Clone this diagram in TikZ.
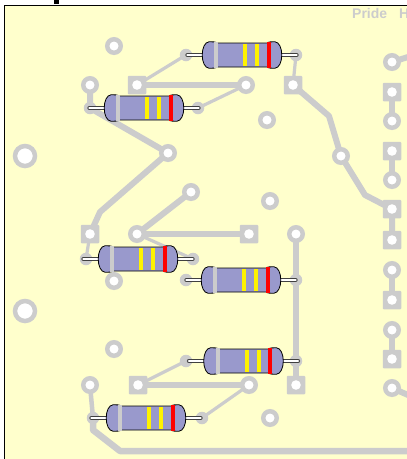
\documentclass[tikz,border=0pt]{standalone}
\usepackage{fontspec}
\setmainfont{Liberation Sans}
\definecolor{board}{RGB}{255,255,204}
\definecolor{cu}{RGB}{204,204,204}
\definecolor{rbody}{RGB}{153,153,204}
\tikzset{
  x=1pt,y=-1pt,
  trace/.style={draw=cu,line width=6pt,line join=round,line cap=round},
  thin trace/.style={draw=cu,line width=3.2pt,line cap=round},
  wide trace/.style={draw=cu,line width=6.5pt,line join=round},
  rpadhole/.style={circle,draw=cu,fill=white,line width=4.5pt,minimum size=13.5pt,inner sep=0pt,outer sep=0pt},
  bighole/.style={circle,draw=cu,fill=white,line width=4.5pt,minimum size=20pt,inner sep=0pt,outer sep=0pt},
  spad/.style={rectangle,rounded corners=1pt,fill=cu,minimum size=18.5pt,inner sep=0pt,outer sep=0pt,
     path picture={\fill[white] (path picture bounding box.center) circle (4.8pt);}},
  lpad/.style={circle,fill=cu,minimum size=12.5pt,inner sep=0pt,outer sep=0pt},
}
\newcommand{\resistor}[2]{%
 \begin{scope}[shift={(#1,#2)}]
  \draw[black!75,line width=4.4pt,line cap=round] (-36,0)--(-54.5,0) (36,0)--(54.5,0);
  \draw[white,line width=2.8pt,line cap=round] (-36,0)--(-54.5,0) (36,0)--(54.5,0);
  \path[fill=rbody,draw=black,line width=.8pt]
    (-25,-12) -- (25,-12)
    .. controls (26,-13.2) and (30,-13.4) .. (33,-13.2)
    .. controls (37,-13) and (39.8,-7) .. (39.8,0)
    .. controls (39.8,7) and (37,13) .. (33,13.2)
    .. controls (30,13.4) and (26,13.2) .. (25,12)
    -- (-25,12)
    .. controls (-26,13.2) and (-30,13.4) .. (-33,13.2)
    .. controls (-37,13) and (-39.8,7) .. (-39.8,0)
    .. controls (-39.8,-7) and (-37,-13) .. (-33,-13.2)
    .. controls (-30,-13.4) and (-26,-13.2) .. (-25,-12) -- cycle;
  \fill[cu] (-28,-12.6) rectangle (-24,12.6);
  \fill[yellow] (1,-11.4) rectangle (5,11.4);
  \fill[yellow] (13,-11.4) rectangle (17,11.4);
  \fill[red] (24.6,-13) rectangle (28.6,13);
 \end{scope}}
\begin{document}
\begin{tikzpicture}
\useasboundingbox (0,0) rectangle (407,459);
\fill[white] (0,0) rectangle (407,459);
\fill[black] (54,0) rectangle (58.5,4);
\fill[board] (4.5,5) rectangle (407,459);
\draw[black,line width=1pt] (4.5,459) -- (4.5,5) -- (407,5);
\coordinate (a1) at (186,55); \coordinate (a2) at (296,55);
\coordinate (b1) at (90,108); \coordinate (b2) at (198,108);
\coordinate (c1) at (86,259); \coordinate (c2) at (193,259);
\coordinate (d1) at (186,280); \coordinate (d2) at (296,280);
\coordinate (e1) at (186,361); \coordinate (e2) at (296,361);
\coordinate (f1) at (93,418); \coordinate (f2) at (202,418);
\coordinate (p1) at (137,85); \coordinate (p2) at (246,85);
\coordinate (p3) at (90,85); \coordinate (p4) at (293,85);
\coordinate (p5) at (168,153); \coordinate (p6) at (191,192);
\coordinate (p7) at (90,234); \coordinate (p8) at (137,234);
\coordinate (p9) at (249,234); \coordinate (p10) at (296,234);
\coordinate (p11) at (341,156); \coordinate (p12) at (392,209);
\coordinate (p13) at (392,240);
\coordinate (p14) at (90,385); \coordinate (p15) at (138,385);
\coordinate (p16) at (249,385); \coordinate (p17) at (296,385);
\coordinate (r1) at (392,62); \coordinate (r2) at (392,92);
\coordinate (r3) at (392,121); \coordinate (r4) at (392,151);
\coordinate (r5) at (392,180); \coordinate (r6) at (392,270);
\coordinate (r7) at (392,300); \coordinate (r8) at (392,330);
\coordinate (r9) at (392,359); \coordinate (r10) at (392,388);
\coordinate (edgeA) at (408,57); \coordinate (edgeB) at (408,395); \coordinate (edgeC) at (408,451);
\draw[thin trace] (a1)--(p1) (p2)--(b2) (a2)--(p4) (p7)--(c1) (p8)--(c2) (e1)--(p15) (p16)--(f2);
\draw[wide trace] (p1)--(p2);
\draw[wide trace] (p8)--(p9);
\draw[wide trace] (p15)--(p16);
\draw[trace] (p3)--(b1)--(p5)--(100,212)--(p7);
\draw[trace] (p6)--(p8);
\draw[trace] (p4)--(329,116)--(p11)--(365,195)--(p12)--(p13);
\draw[trace] (p10)--(p17);
\draw[trace] (r2)--(r3) (r4)--(r5) (r6)--(r7) (r8)--(r9);
\draw[trace] (r1)--(edgeA) (r10)--(edgeB);
\draw[trace,line width=4.5pt] (p14)--(f1);
\draw[wide trace] (f1)--(93,430)--(120,451)--(edgeC);
\foreach \p in {a1,a2,b1,b2,c1,c2,d1,d2,e1,e2,f1,f2} \node[lpad] at (\p) {};
\foreach \p in {p1,p4,p7,p9,p12,p13,p15,p17,r2,r4,r7,r9} \node[spad] at (\p) {};
\foreach \p in {p2,p3,p5,p6,p8,p10,p11,p14,p16,r1,r3,r5,r6,r8,r10} \node[rpadhole] at (\p) {};
\foreach \x/\y in {114/46,267/120,270/201,114/281,114/349,270/418} \node[rpadhole] at (\x,\y) {};
\foreach \y in {156,311} \node[bighole] at (25,\y) {};
\resistor{242}{55}
\resistor{144}{108}
\resistor{138}{259}
\resistor{241}{280}
\resistor{243.5}{361}
\resistor{146}{418}
\node[text=cu,font=\bfseries\fontsize{14pt}{16pt}\selectfont,anchor=west,inner sep=0pt] at (352,13.5) {Pride\hspace{12pt}H};
\end{tikzpicture}
\end{document}
